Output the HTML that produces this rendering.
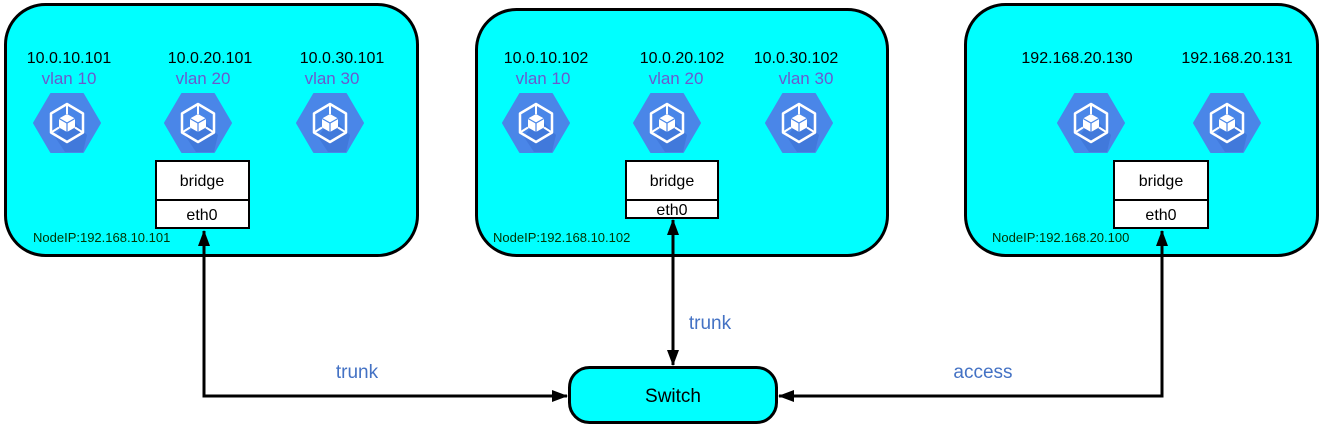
<!DOCTYPE html>
<html><head><meta charset="utf-8"><style>
html,body{margin:0;padding:0;background:#fff}
svg{display:block}
text{font-family:"Liberation Sans",sans-serif}
</style></head><body>
<svg width="1328" height="428" viewBox="0 0 1328 428" xmlns="http://www.w3.org/2000/svg">
<defs>
<g id="ic">
<polygon points="-33,0 -16,-29 16,-29 33,0 16,29 -16,29" fill="#4a86e8" stroke="#4a86e8" stroke-width="2" stroke-linejoin="round"/>
<polygon points="2,-6 20,12 16,29 -2,29 -12,14" fill="#3d74d6" opacity="0.7"/>
<polygon points="0,-19 16,-9.5 16,9.5 0,19 -16,9.5 -16,-9.5" fill="none" stroke="#fff" stroke-width="2.5" stroke-linejoin="round"/>
<polygon points="0,-9 8,-4.5 8,4.5 0,9 -8,4.5 -8,-4.5" fill="#fff"/>
<polyline points="-8,-4.5 0,0 8,-4.5" fill="none" stroke="#4a86e8" stroke-width="1.2"/>
<line x1="0" y1="0" x2="0" y2="9" stroke="#4a86e8" stroke-width="1.2"/>
<line x1="0" y1="-19" x2="0" y2="-9" stroke="#fff" stroke-width="2"/>
<line x1="-16" y1="9.5" x2="-8" y2="4.5" stroke="#fff" stroke-width="2"/>
<line x1="16" y1="9.5" x2="8" y2="4.5" stroke="#fff" stroke-width="2"/>
</g>
<marker id="ah2" markerWidth="16" markerHeight="12" refX="15" refY="6" orient="auto-start-reverse" markerUnits="userSpaceOnUse">
<path d="M0,0 L16,6 L0,12 Z" fill="#000"/>
</marker>
</defs>

<rect x="5.5" y="4.5" width="412" height="251" rx="40" fill="#00ffff" stroke="#000" stroke-width="3"/>
<rect x="476.5" y="9.5" width="411" height="246" rx="40" fill="#00ffff" stroke="#000" stroke-width="3"/>
<rect x="965.5" y="4.5" width="352" height="251" rx="40" fill="#00ffff" stroke="#000" stroke-width="3"/>

<g font-size="16" fill="#000" text-anchor="middle">
<text x="69" y="63">10.0.10.101</text>
<text x="210" y="63">10.0.20.101</text>
<text x="342" y="63">10.0.30.101</text>
<text x="546" y="63">10.0.10.102</text>
<text x="682" y="63">10.0.20.102</text>
<text x="796" y="63">10.0.30.102</text>
<text x="1077" y="63">192.168.20.130</text>
<text x="1237" y="63">192.168.20.131</text>
</g>
<g font-size="17" fill="#6a5acd" text-anchor="middle">
<text x="69" y="84">vlan 10</text>
<text x="203" y="84">vlan 20</text>
<text x="332" y="84">vlan 30</text>
<text x="543" y="84">vlan 10</text>
<text x="676" y="84">vlan 20</text>
<text x="806" y="84">vlan 30</text>
</g>

<use href="#ic" x="67" y="123"/>
<use href="#ic" x="198" y="123"/>
<use href="#ic" x="330" y="123"/>
<use href="#ic" x="536" y="123"/>
<use href="#ic" x="667" y="123"/>
<use href="#ic" x="799" y="123"/>
<use href="#ic" x="1091" y="123"/>
<use href="#ic" x="1227" y="123"/>

<g fill="#fff" stroke="#000" stroke-width="2">
<rect x="156" y="161" width="93" height="39"/><rect x="156" y="200" width="93" height="28"/>
<rect x="626" y="161" width="92" height="39"/><rect x="626" y="200" width="92" height="18"/>
<rect x="1114" y="161" width="94" height="39"/><rect x="1114" y="200" width="94" height="28"/>
</g>
<g font-size="16" fill="#000" text-anchor="middle">
<text x="202" y="186">bridge</text><text x="202" y="220">eth0</text>
<text x="672" y="186">bridge</text><text x="672" y="215">eth0</text>
<text x="1161" y="186">bridge</text><text x="1161" y="220">eth0</text>
</g>
<g font-size="13" fill="#003300">
<text x="33" y="242">NodeIP:192.168.10.101</text>
<text x="493" y="242">NodeIP:192.168.10.102</text>
<text x="992" y="242">NodeIP:192.168.20.100</text>
</g>

<rect x="569.5" y="367.5" width="207" height="55" rx="20" fill="#00ffff" stroke="#000" stroke-width="3"/>
<text x="673" y="402" font-size="19" text-anchor="middle" fill="#000">Switch</text>

<g fill="none" stroke="#000" stroke-width="3">
<polyline points="204,231 204,396 567,396" marker-start="url(#ah2)" marker-end="url(#ah2)"/>
<line x1="673" y1="220" x2="673" y2="365" marker-start="url(#ah2)" marker-end="url(#ah2)"/>
<polyline points="1162,231 1162,396 779,396" marker-start="url(#ah2)" marker-end="url(#ah2)"/>
</g>
<g font-size="19" fill="#4472c4" text-anchor="middle">
<text x="357" y="378">trunk</text>
<text x="710" y="329">trunk</text>
<text x="983" y="378">access</text>
</g>
</svg>
</body></html>
